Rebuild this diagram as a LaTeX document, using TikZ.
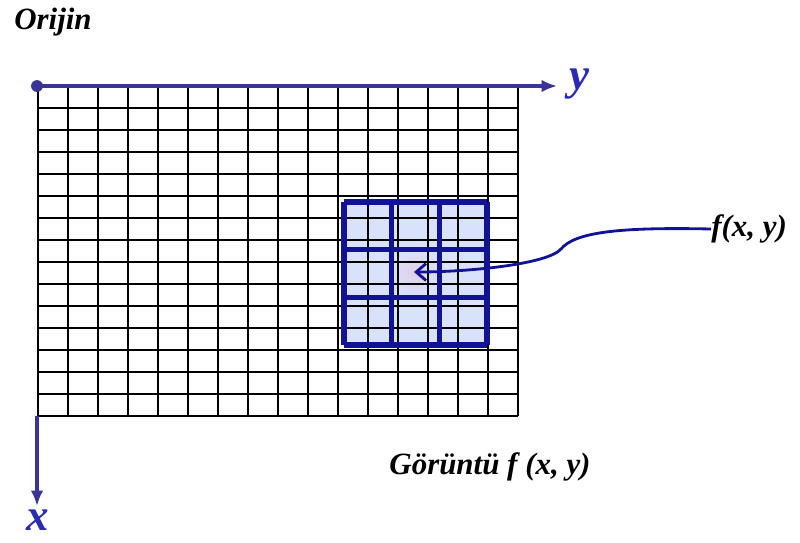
\documentclass[tikz,border=0pt]{standalone}
\usepackage{fontspec}
\setmainfont{Liberation Serif}
\usetikzlibrary{arrows.meta}
\definecolor{axisblue}{RGB}{58,52,148}
\definecolor{boxblue}{RGB}{18,18,150}
\definecolor{cellblue}{RGB}{216,226,250}
\definecolor{cellpink}{RGB}{226,206,232}
\definecolor{labelblue}{RGB}{42,42,185}
\begin{document}
\begin{tikzpicture}[x=0.025cm,y=-0.025cm,
  lbl/.style={font=\fontsize{22}{25}\selectfont\bfseries\itshape, inner sep=0pt},
  axlbl/.style={font=\fontsize{32}{35}\selectfont\bfseries\itshape, text=labelblue, inner sep=0pt},
  axis/.style={line width=2.2pt, axisblue, -{Latex[length=11pt,width=9pt]}},
  gridline/.style={line width=1.3pt, black},
  boxline/.style={line width=3.9pt, boxblue, line cap=square}]
\useasboundingbox (0,0) rectangle (800,542);
\coordinate (O) at (37,86); \coordinate (Y) at (557,86);
\coordinate (B) at (37,416); \coordinate (X) at (37,506);
% cells under the window
\fill[cellblue] (344,202) rectangle (487,345);
\shade[inner color=cellpink, outer color=cellblue] (391.7,249.7) rectangle (439.3,297.3);
% image grid
\foreach \i in {0,...,16} \draw[gridline] (38+30*\i,86) -- (38+30*\i,416);
\foreach \j in {0,...,15} \draw[gridline] (38,86+22*\j) -- (518,86+22*\j);
% 3x3 window
\foreach \i in {0,...,3} \draw[boxline] (344+47.67*\i,202) -- (344+47.67*\i,345);
\foreach \j in {0,...,3} \draw[boxline] (344,202+47.67*\j) -- (487,202+47.67*\j);
% axes
\draw[axis] (O) -- (Y);
\draw[axis] (B) -- (X);
\fill[axisblue] (O) circle (4.2pt);
\node[axlbl] (ylbl) at (579,84) {y};
\node[axlbl] (xlbl) at (38,520) {x};
\node[lbl, anchor=west] (orijin) at (14,22) {Orijin};
\node[lbl] (goruntu) at (490,467) {Görüntü \textit{f} (x, y)};
\node[lbl, anchor=west] (fxy) at (711,229) {f(x, y)};
\coordinate (P) at (414,272);
\draw[line width=2pt, boxblue, -{Straight Barb[length=7pt,width=12pt]}] (fxy.west) .. controls (620,227) and (575,232) .. (561,249) .. controls (548,264) and (470,272) .. (P);
\end{tikzpicture}
\end{document}
